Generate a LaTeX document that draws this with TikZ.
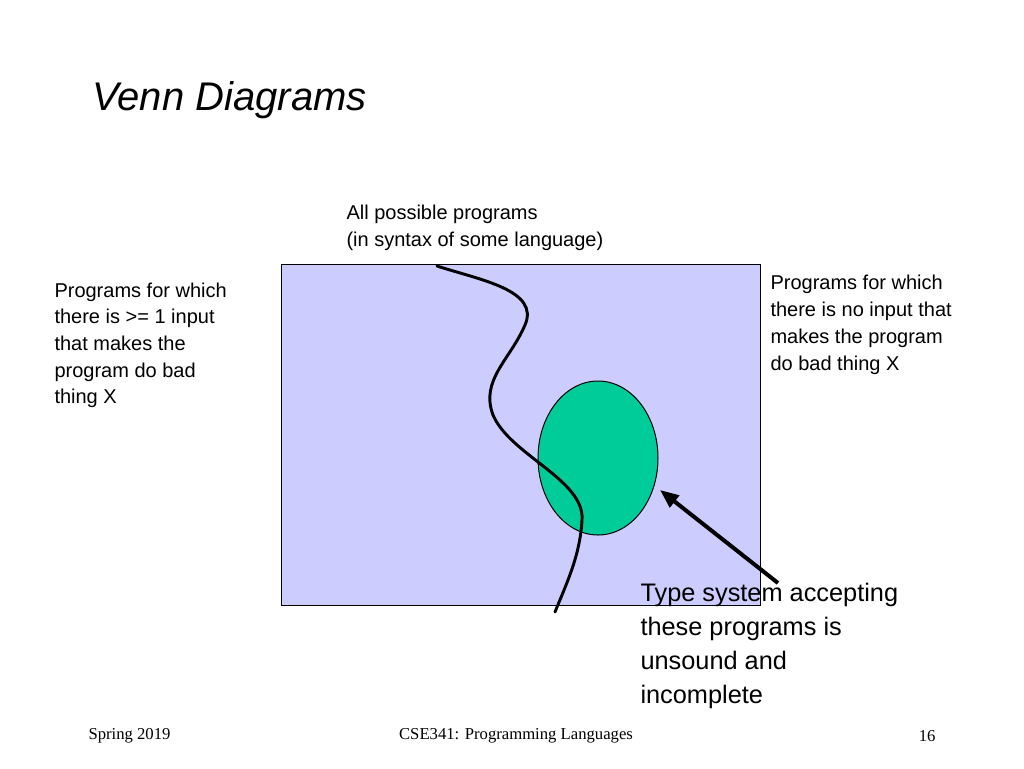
\documentclass[tikz,border=0pt]{standalone}
\usepackage{fontspec}
\setmainfont{Liberation Sans}
\newfontfamily\footfont{Liberation Serif}
\usetikzlibrary{arrows.meta}
\definecolor{setblue}{RGB}{204,204,255}
\definecolor{setgreen}{RGB}{0,204,153}
\tikzset{every picture/.style={line width=0.75pt},
  label text/.style={anchor=north west, inner sep=0pt, align=left, font=\fontsize{15}{20}\selectfont},
  foot text/.style={inner sep=0pt, font=\footfont\fontsize{12.5}{15}\selectfont}}

\begin{document}
\begin{tikzpicture}[x=0.75pt,y=0.75pt,yscale=-1,xscale=1]
\useasboundingbox (0,0) rectangle (1024,768);

%Shape: Rectangle
\draw [fill=setblue] (281,264) rectangle (760,605) ;
%Shape: Ellipse
\draw [fill=setgreen] (598,458) ellipse [x radius=60, y radius=77] ;
%Curve Lines
\draw [line width=2.2pt, line cap=round] (437,266) .. controls (480,280) and (540,290) .. (525,325) .. controls (510,360) and (480,380) .. (493,415) .. controls (510,455) and (585,480) .. (582,520) .. controls (580,555) and (568,580) .. (555,612) ;
%Straight Lines
\coordinate (tail) at (778,583);
\coordinate (tip) at (660,490);
\draw [line width=3pt, -{Triangle[length=14pt,width=11pt]}] (tail) -- (tip) ;

% Text Node
\node (title) [anchor=west, inner sep=0pt, font=\fontsize{30}{36}\itshape\selectfont] at (92,100) {Venn Diagrams};
% Text Node
\node (all) [label text] at (346,205) {All possible programs\\(in syntax of some language)};
% Text Node
\node (bad) [label text] at (54,282) {Programs for which\\there is >= 1 input\\that makes the\\program do bad\\thing X};
% Text Node
\node (good) [label text] at (770,275) {Programs for which\\there is no input that\\makes the program\\do bad thing X};
% Text Node
\node (type) [anchor=north west, inner sep=0pt, align=left, font=\fontsize{19}{25.5}\selectfont] at (640,583) {Type system accepting\\these programs is\\unsound and\\incomplete};
% Text Node
\node (spring) [foot text, anchor=west] at (88,736) {Spring 2019};
\node (course) [foot text] at (516,736) {CSE341: Programming Languages};
\node (page) [foot text, anchor=east] at (936,736) {16};
\end{tikzpicture}
\end{document}
